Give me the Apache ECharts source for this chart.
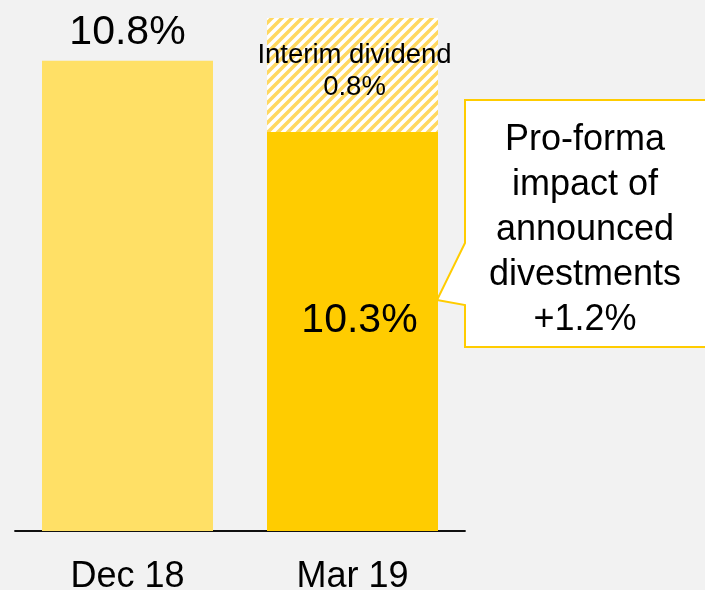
<!DOCTYPE html>
<html>
<head>
<meta charset="utf-8">
<style>
  html, body { margin: 0; padding: 0; background: #f2f2f2; }
  #main { width: 705px; height: 590px; }
</style>
<script src="https://cdn.jsdelivr.net/npm/echarts@6/dist/echarts.min.js"></script>
</head>
<body>
<div id="main"></div>
<script>
var categories = ['Dec 18', 'Mar 19'];
var cet1Ratio = [10.8, 10.3];
var interimDividend = [null, 0.8];
var calloutLines = ['Pro-forma', 'impact of', 'announced', 'divestments', '+1.2%'];

(function(){
    var chartDom = document.getElementById('main');
    var myChart = echarts.init(chartDom);
    var font = 'Liberation Sans, Arial, sans-serif';

    // hatch tile for the dividend part
    var hatch = document.createElement('canvas');
    hatch.width = 10;
    hatch.height = 10;
    var ctx = hatch.getContext('2d');
    ctx.fillStyle = '#ffffff';
    ctx.fillRect(0, 0, 10, 10);
    ctx.strokeStyle = '#ffd860';
    ctx.lineWidth = 3.5;
    ctx.beginPath();
    ctx.moveTo(-5, 5); ctx.lineTo(5, -5);
    ctx.moveTo(0, 10); ctx.lineTo(10, 0);
    ctx.moveTo(5, 15); ctx.lineTo(15, 5);
    ctx.stroke();

    var baseData = cet1Ratio.map(function(v, i) {
      if (i === 0) {
        return { value: v, label: { position: 'top', distance: 8 } };
      }
      return { value: v, label: { position: 'inside', offset: [7, -11] } };
    });

    var option = {
      backgroundColor: '#f2f2f2',
      animation: false,
      grid: {
        left: 15,
        right: 240,
        top: 18,
        bottom: 59,
        outerBoundsMode: 'none',
        containLabel: false
      },
      xAxis: {
        type: 'category',
        data: categories,
        axisTick: { show: false },
        axisLine: {
          lineStyle: { color: '#111', width: 1.8 }
        },
        axisLabel: {
          color: '#000',
          fontFamily: font,
          fontSize: 36,
          margin: 28
        }
      },
      yAxis: {
        type: 'value',
        min: 7.5,
        max: 11.1,
        show: false,
        splitLine: { show: false }
      },
      series: [
        {
          name: 'CET1',
          type: 'bar',
          stack: 'total',
          barWidth: 171,
          data: baseData,
          itemStyle: {
            color: function(p) {
              return p.dataIndex === 0 ? '#ffe066' : '#ffcc00';
            }
          },
          label: {
            show: true,
            color: '#000',
            fontFamily: font,
            fontSize: 41,
            lineHeight: 41,
            formatter: function(p) { return p.value.toFixed(1) + '%'; }
          }
        },
        {
          name: 'Interim dividend',
          type: 'bar',
          stack: 'total',
          barWidth: 171,
          data: interimDividend,
          itemStyle: {
            color: { image: hatch, repeat: 'repeat' }
          },
          label: {
            show: true,
            position: 'inside',
            offset: [2, -4],
            color: '#000',
            fontFamily: font,
            fontSize: 27.5,
            lineHeight: 32,
            formatter: function(p) { return 'Interim dividend\n' + p.value.toFixed(1) + '%'; }
          }
        }
      ],
      graphic: [
        {
          type: 'polygon',
          shape: {
            points: [[465, 100], [712, 100], [712, 347], [465, 347], [465, 305], [437, 300], [465, 243]]
          },
          style: { fill: '#ffffff', stroke: '#ffcc00', lineWidth: 2 }
        },
        {
          type: 'text',
          x: 585,
          y: 230,
          style: {
            text: calloutLines.join('\n'),
            fill: '#000',
            fontFamily: font,
            fontSize: 36,
            lineHeight: 45,
            align: 'center',
            verticalAlign: 'middle'
          }
        }
      ]
    };

    option && myChart.setOption(option);
})();
</script>
</body>
</html>
